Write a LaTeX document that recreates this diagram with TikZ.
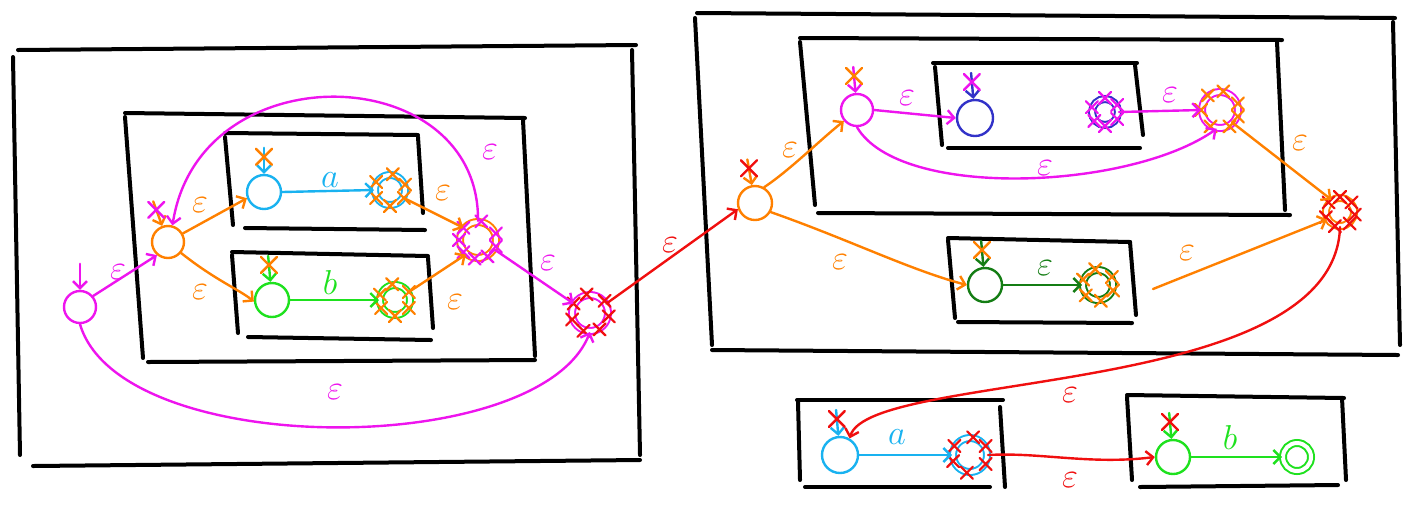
\documentclass[tikz,border=0pt]{standalone}
\usetikzlibrary{arrows.meta,calc}
\definecolor{mag}{RGB}{238,20,238}
\definecolor{org}{RGB}{255,128,0}
\definecolor{cyn}{RGB}{25,178,240}
\definecolor{grn}{RGB}{30,225,30}
\definecolor{dgrn}{RGB}{20,125,20}
\definecolor{blu}{RGB}{50,50,200}
\definecolor{rd}{RGB}{240,15,15}
\tikzset{
  x=0.5pt, y=-0.5pt,
  frame/.style={line width=2pt, line cap=round, black},
  st/.style={circle, draw, line width=1.2pt, minimum size=16pt, inner sep=0pt},
  acc/.style={st, double, double distance=2pt, line width=1pt},
  tr/.style={line width=1.2pt, line cap=round, -{Straight Barb[length=3.5pt,width=7pt]}},
  lbl/.style={font=\LARGE, inner sep=0pt},
  xmark/.pic={\draw[line width=1.1pt, line cap=round] (-6,-6)--(6,6) (-6,6)--(6,-6);},
  bigx/.pic={\draw[line width=1.2pt, line cap=round] (-8,-8)--(8,8) (-8,8)--(8,-8);},
}
% start arrow struck through with a cross: node, anchor, arrow colour, cross colour
\newcommand\startx[4]{%
  \draw[tr,#3] ($(#1.#2)+(#2:13pt)$) -- (#1.#2);
  \pic[#4] at ($(#1.#2)+(#2:8.5pt)$) {bigx};}
% crosses around a final state: node, colour, list of angles
\newcommand\ringx[3]{\foreach \a in {#3} \pic[#2] at (#1.\a) {xmark};}
\begin{document}
\begin{tikzpicture}
\useasboundingbox (0,0) rectangle (1406,505);

% ---------- left automaton: (a|b)* ----------
\draw[frame] (18,50) -- (636,45);
\draw[frame] (13,57) -- (20,455);
\draw[frame] (33,466) -- (640,460);
\draw[frame] (632,50) -- (640,455);
\draw[frame] (125,113) -- (525,118);
\draw[frame] (125,117) -- (143,358);
\draw[frame] (148,362) -- (535,360);
\draw[frame] (523,120) -- (535,356);
\draw[frame] (225,133) -- (418,135);
\draw[frame] (225,137) -- (233,225);
\draw[frame] (418,137) -- (423,213);
\draw[frame] (245,228) -- (425,230);
\draw[frame] (232,252) -- (428,256);
\draw[frame] (232,255) -- (238,333);
\draw[frame] (428,258) -- (433,328);
\draw[frame] (248,337) -- (431,340);

\node[st,mag] (ls) at (80,307) {};
\node[st,org] (lo) at (168,242) {};
\node[st,cyn,minimum size=17pt] (lca) at (264,192) {};
\node[acc,cyn,minimum size=15pt] (lcb) at (390,190) {};
\node[st,grn,minimum size=17pt] (lga) at (272,300) {};
\node[acc,grn,minimum size=15pt] (lgb) at (395,300) {};
\node[acc,org,minimum size=18pt] (loa) at (478,240) {};
\node[acc,mag,minimum size=18pt] (lma) at (590,313) {};

\draw[tr,mag] ($(ls.north)+(0,-26)$) -- (ls.north);
\startx{lo}{110}{org}{mag}
\startx{lca}{90}{cyn}{org}
\startx{lga}{95}{grn}{org}
\ringx{lcb}{org}{20,80,150,210,270,330}
\ringx{lgb}{org}{30,100,160,210,270,330}
\ringx{loa}{mag}{20,80,140,180,220,260,300,340}
\ringx{lma}{rd}{40,100,150,200,250,300,350}

\draw[tr,mag] (ls.40) -- (lo.230);
\draw[tr,org] (lo.30) -- (lca.200);
\draw[tr,org] (lo.320) .. controls (215,280) and (240,290) .. (lga.185);
\draw[tr,cyn] (lca.east) -- (lcb.west);
\draw[tr,grn] (lga.east) -- (lgb.west);
\draw[tr,org] (lcb.330) -- (loa.140);
\draw[tr,org] (lgb.30) -- (loa.230);
\draw[tr,mag] (loa.north) .. controls (480,60) and (200,50) .. (lo.75);
\draw[tr,mag] (loa.330) -- (lma.150);
\draw[tr,mag] (ls.south) .. controls (120,460) and (540,460) .. (lma.south);

\node[lbl,mag] at (118,272) {$\varepsilon$};
\node[lbl,org] at (200,205) {$\varepsilon$};
\node[lbl,org] at (200,292) {$\varepsilon$};
\node[lbl,cyn] at (330,180) {$a$};
\node[lbl,grn] at (330,282) {$b$};
\node[lbl,org] at (443,193) {$\varepsilon$};
\node[lbl,org] at (455,302) {$\varepsilon$};
\node[lbl,mag] at (490,152) {$\varepsilon$};
\node[lbl,mag] at (548,263) {$\varepsilon$};
\node[lbl,mag] at (335,392) {$\varepsilon$};

% ---------- right automaton ----------
\draw[frame] (697,13) -- (1395,18);
\draw[frame] (695,18) -- (712,345);
\draw[frame] (712,350) -- (1398,355);
\draw[frame] (1393,22) -- (1400,345);
\draw[frame] (800,38) -- (1282,40);
\draw[frame] (800,42) -- (815,205);
\draw[frame] (818,213) -- (1290,215);
\draw[frame] (1277,42) -- (1285,210);
\draw[frame] (933,63) -- (1137,63);
\draw[frame] (935,67) -- (942,145);
\draw[frame] (948,148) -- (1140,148);
\draw[frame] (1135,65) -- (1143,135);
\draw[frame] (948,238) -- (1130,242);
\draw[frame] (948,240) -- (955,318);
\draw[frame] (1130,242) -- (1136,315);
\draw[frame] (958,322) -- (1132,323);

\node[st,org,minimum size=17pt] (ro) at (755,203) {};
\node[st,mag] (rm) at (857,110) {};
\node[st,blu,minimum size=18pt] (rb1) at (975,118) {};
\node[acc,blu,minimum size=13pt] (rb2) at (1105,112) {};
\node[acc,mag,minimum size=18pt] (rma) at (1220,110) {};
\node[acc,org,minimum size=14pt] (roa) at (1340,212) {};
\node[st,dgrn,minimum size=17pt] (rg1) at (985,285) {};
\node[acc,dgrn,minimum size=15pt] (rg2) at (1098,285) {};
\coordinate (rg2o) at (1153,289);

\startx{ro}{100}{org}{rd}
\startx{rm}{95}{mag}{org}
\startx{rb1}{95}{blu}{mag}
\startx{rg1}{95}{dgrn}{org}
\ringx{rb2}{mag}{30,90,160,220,270,330}
\ringx{rma}{org}{20,80,130,180,240,300,340}
\ringx{roa}{rd}{40,90,140,200,250,310,350}
\ringx{rg2}{org}{30,100,160,220,280,340}

\draw[tr,org] (ro.60) .. controls (790,170) and (820,140) .. (rm.220);
\draw[tr,org] (ro.330) .. controls (850,240) and (910,270) .. (rg1.west);
\draw[tr,mag] (rm.east) -- (rb1.west);
\draw[tr,mag] (rb2.east) -- (rma.west);
\draw[tr,mag] (rm.south) .. controls (900,200) and (1130,190) .. (rma.260);
\draw[tr,org] (rma.315) -- (roa.125);
\draw[tr,dgrn] (rg1.east) -- (rg2.west);
\draw[tr,org] (rg2o) -- (roa.210);

\node[lbl,org] at (790,150) {$\varepsilon$};
\node[lbl,org] at (840,262) {$\varepsilon$};
\node[lbl,mag] at (907,98) {$\varepsilon$};
\node[lbl,mag] at (1170,95) {$\varepsilon$};
\node[lbl,mag] at (1045,168) {$\varepsilon$};
\node[lbl,org] at (1300,143) {$\varepsilon$};
\node[lbl,dgrn] at (1045,268) {$\varepsilon$};
\node[lbl,org] at (1187,253) {$\varepsilon$};

% ---------- bottom: a then b ----------
\draw[frame] (797,400) -- (1003,400);
\draw[frame] (798,402) -- (800,480);
\draw[frame] (805,487) -- (990,487);
\draw[frame] (1000,407) -- (1005,487);
\draw[frame] (1127,395) -- (1344,398);
\draw[frame] (1127,397) -- (1132,480);
\draw[frame] (1342,398) -- (1346,480);
\draw[frame] (1140,487) -- (1338,485);

\node[st,cyn,minimum size=18pt] (bc1) at (840,455) {};
\node[acc,cyn,minimum size=17pt] (bc2) at (970,455) {};
\node[st,grn,minimum size=17pt] (bg1) at (1173,457) {};
\node[acc,grn,minimum size=14pt] (bg2) at (1297,457) {};

\startx{bc1}{95}{cyn}{rd}
\startx{bg1}{95}{grn}{rd}
\ringx{bc2}{rd}{30,80,150,200,260,330}

\draw[tr,cyn] (bc1.east) -- (bc2.west);
\draw[tr,rd] (bc2.east) .. controls (1040,452) and (1090,465) .. (bg1.west);
\draw[tr,grn] (bg1.east) -- (bg2.west);

\node[lbl,cyn] at (897,437) {$a$};
\node[lbl,rd] at (1070,480) {$\varepsilon$};
\node[lbl,grn] at (1230,437) {$b$};

% ---------- links between the parts ----------
\draw[tr,rd] (lma.30) -- (ro.200);
\draw[tr,rd] (roa.south) .. controls (1335,400) and (870,370) .. (bc1.60);
\node[lbl,rd] at (670,245) {$\varepsilon$};
\node[lbl,rd] at (1070,395) {$\varepsilon$};
\end{tikzpicture}
\end{document}
